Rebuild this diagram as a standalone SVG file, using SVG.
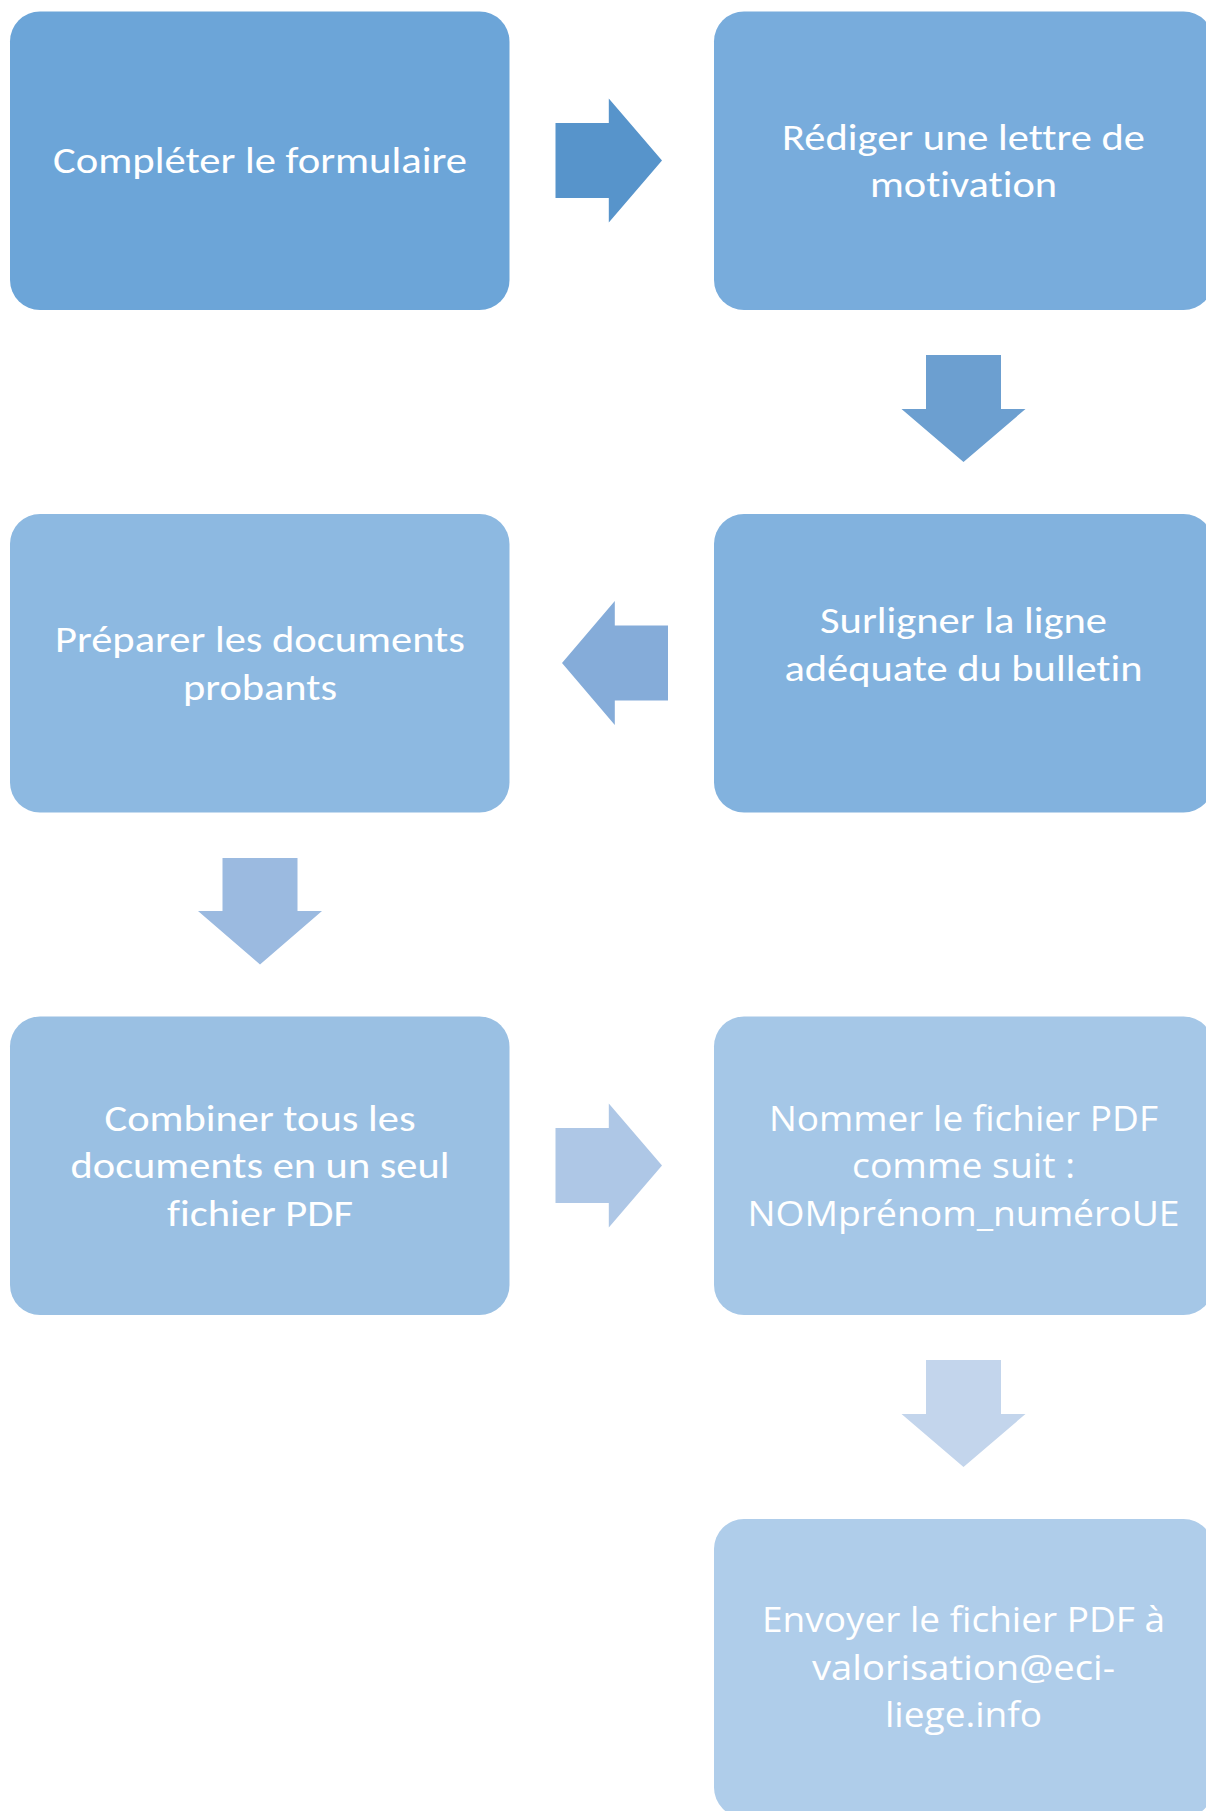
<svg xmlns="http://www.w3.org/2000/svg" width="1206" height="1811" viewBox="0 0 1206 1811">
<style>
.box{stroke:none}
.t1{font-family:Carlito,Calibri,Lato,"Liberation Sans",sans-serif;font-size:36px;font-weight:300;fill:#ffffff;text-anchor:middle;font-variant-ligatures:none}
.t2{font-family:"Segoe UI","Open Sans","DejaVu Sans",sans-serif;font-size:34px;fill:#ffffff;text-anchor:middle;font-variant-ligatures:none}
</style>
<rect width="1206" height="1811" fill="#ffffff"/>
<g id="connectors">
<polygon id="a1" fill="#5794CB" points="555.5,123 608.8,123 608.8,98.5 662,160.5 608.8,222.5 608.8,198 555.5,198"/>
<polygon id="a2" fill="#6C9FD0" points="926,355 1001,355 1001,409 1025.5,409 963.5,462 901.5,409 926,409"/>
<polygon id="a3" fill="#85ACD9" points="668,625.5 614.8,625.5 614.8,601 562,663 614.8,725 614.8,700.5 668,700.5"/>
<polygon id="a4" fill="#9BBAE0" points="222.5,858 297.5,858 297.5,911 322,911 260,964.5 198,911 222.5,911"/>
<polygon id="a5" fill="#AEC7E6" points="555.5,1128 608.8,1128 608.8,1103.5 662,1165.5 608.8,1227.5 608.8,1203 555.5,1203"/>
<polygon id="a6" fill="#C3D5EC" points="926,1360 1001,1360 1001,1414 1025.5,1414 963.5,1467 901.5,1414 926,1414"/>
</g>
<g id="n1">
<rect class="box" x="10" y="11.5" width="499.5" height="298.5" rx="30" fill="#6CA5D8"/>
<text class="t1" x="260" y="173" textLength="414" lengthAdjust="spacingAndGlyphs">Compléter le formulaire</text>
</g>
<g id="n2">
<rect class="box" x="714" y="11.5" width="499.5" height="298.5" rx="30" fill="#78ACDC"/>
<text class="t1" x="963.5" y="149.5" textLength="363" lengthAdjust="spacingAndGlyphs">Rédiger une lettre de</text>
<text class="t1" x="963.5" y="196.5" textLength="187" lengthAdjust="spacingAndGlyphs">motivation</text>
</g>
<g id="n3">
<rect class="box" x="10" y="514" width="499.5" height="298.5" rx="30" fill="#8DB9E1"/>
<text class="t1" x="260" y="652" textLength="410" lengthAdjust="spacingAndGlyphs">Préparer les documents</text>
<text class="t1" x="260" y="699.5" textLength="154" lengthAdjust="spacingAndGlyphs">probants</text>
</g>
<g id="n4">
<rect class="box" x="714" y="514" width="499.5" height="298.5" rx="30" fill="#82B2DE"/>
<text class="t1" x="963.5" y="633" textLength="287" lengthAdjust="spacingAndGlyphs">Surligner la ligne</text>
<text class="t1" x="963.5" y="681" textLength="358" lengthAdjust="spacingAndGlyphs">adéquate du bulletin</text>
</g>
<g id="n5">
<rect class="box" x="10" y="1016.5" width="499.5" height="298.5" rx="30" fill="#9AC0E3"/>
<text class="t1" x="260" y="1131" textLength="311" lengthAdjust="spacingAndGlyphs">Combiner tous les</text>
<text class="t1" x="260" y="1178" textLength="379" lengthAdjust="spacingAndGlyphs">documents en un seul</text>
<text class="t1" x="260" y="1225.5" textLength="186" lengthAdjust="spacingAndGlyphs">fichier PDF</text>
</g>
<g id="n6">
<rect class="box" x="714" y="1016.5" width="499.5" height="298.5" rx="30" fill="#A5C7E7"/>
<text class="t2" x="963.5" y="1130.5" textLength="389" lengthAdjust="spacingAndGlyphs">Nommer le fichier PDF</text>
<text class="t2" x="963.5" y="1178" textLength="223" lengthAdjust="spacingAndGlyphs">comme suit :</text>
<text class="t2" x="963.5" y="1225.5" textLength="432" lengthAdjust="spacingAndGlyphs">NOMprénom_numéroUE</text>
</g>
<g id="n7">
<rect class="box" x="714" y="1519" width="499.5" height="298.5" rx="30" fill="#AFCDEA"/>
<text class="t2" x="963.5" y="1632" textLength="403" lengthAdjust="spacingAndGlyphs">Envoyer le fichier PDF à</text>
<text class="t2" x="963.5" y="1679.5" textLength="303" lengthAdjust="spacingAndGlyphs">valorisation@eci-</text>
<text class="t2" x="963.5" y="1727" textLength="157" lengthAdjust="spacingAndGlyphs">liege.info</text>
</g>
</svg>
